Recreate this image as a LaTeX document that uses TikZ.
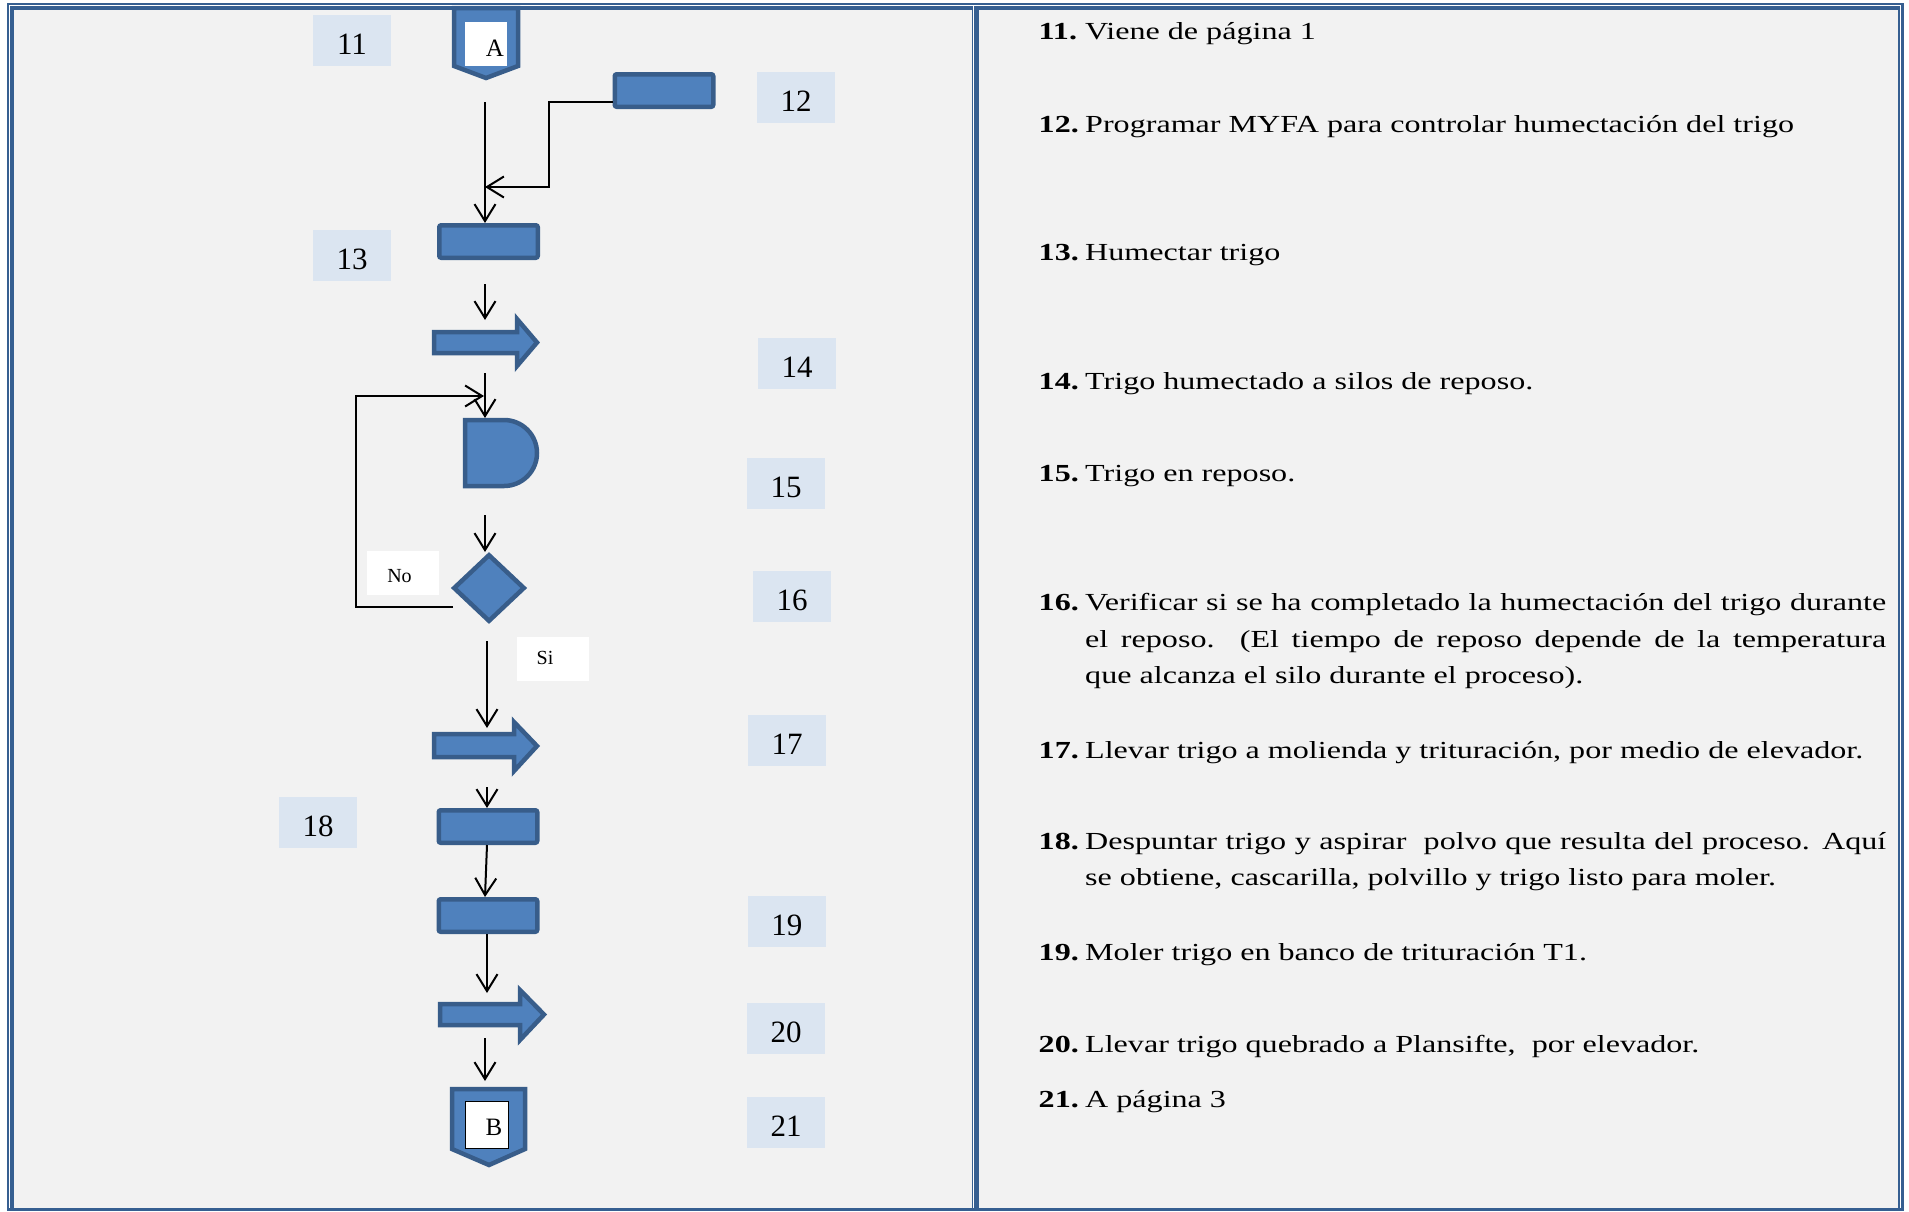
\documentclass[tikz,border=0pt]{standalone}
\usepackage{fontspec}
\setmainfont{Liberation Serif}
\newfontfamily\widefont{Liberation Serif}[FakeStretch=1.31]
\usetikzlibrary{arrows.meta,shapes.geometric,calc}
\definecolor{tblue}{RGB}{54,95,145}
\definecolor{cellbg}{RGB}{242,242,242}
\definecolor{lblbg}{RGB}{219,229,241}
\definecolor{shfill}{RGB}{79,129,189}
\definecolor{shline}{RGB}{56,93,138}
\begin{document}
\begin{tikzpicture}[x=1pt,y=1pt,
  shp/.style={fill=shfill,draw=shline,line width=4.5pt},
  procbox/.style={shp,rectangle,rounded corners=2pt,minimum width=98.5pt,minimum height=32.5pt,inner sep=0pt},
  lbl/.style={fill=lblbg,inner sep=0pt,minimum width=78pt,minimum height=51pt},
  lblnum/.style={inner sep=0pt,font=\fontsize{31}{31}\selectfont},
  txt/.style={inner sep=0pt,font=\widefont\fontsize{24.5}{36.5}\selectfont,anchor=base west},
  small/.style={inner sep=0pt,font=\fontsize{20}{20}\selectfont},
  conn/.style={line width=2pt,-{Straight Barb[length=17pt,width=21pt]}},
  whitebox/.style={fill=white,inner sep=0pt,minimum width=71.5pt,minimum height=44pt},
  ]
\useasboundingbox (0,0) rectangle (1909,-1211);
\fill[white] (0,0) rectangle (1909,-1211);
% cells
\fill[cellbg] (14,-10) rectangle (971.7,-1208);
\fill[cellbg] (979,-10) rectangle (1898,-1208);

% label boxes
\foreach \n/\x/\y in {11/352/40.5, 12/796/97.5, 13/352/255.5, 14/797/363.5, 15/786/483.5, 16/792/596.5, 17/787/740.5, 18/318/822.5, 19/786.75/921.5, 20/786/1028.5, 21/786/1122.5}{
  \node[lbl] (l\n) at (\x,-\y) {};
  \node[lblnum] (ln\n) at ($(l\n)+(0,-3.5)$) {\n};
}

% off-page connector A
\path[shp] (454,-8) -- (454,-66) -- (486,-78) -- (518,-66) -- (518,-8) -- cycle;
\node[fill=white,minimum width=42pt,minimum height=44pt,inner sep=0pt] (offA) at (486,-44) {};
\node[inner sep=0pt,font=\fontsize{25}{25}\selectfont] (labA) at (495,-48) {A};

% process boxes
\node[procbox] (r12) at (664,-90.5) {};
\node[procbox] (r13) at (488.5,-241.5) {};
\node[procbox] (r18) at (488,-826.5) {};
\node[procbox] (r19) at (488,-915.5) {};

% block arrows (transport)
\path[shp] (434,-332) -- (517,-332) -- (517,-319) -- (537,-342.5) -- (517,-366) -- (517,-353) -- (434,-353) -- cycle;
\path[shp] (434,-734) -- (514,-734) -- (514,-722) -- (537,-746) -- (514,-771) -- (514,-757) -- (434,-757) -- cycle;
\path[shp] (440,-1004) -- (520,-1004) -- (520,-990) -- (544,-1014.5) -- (520,-1040) -- (520,-1025) -- (440,-1025) -- cycle;

% delay (D shape)
\path[shp] (465,-420) -- (504,-420) arc[start angle=90,end angle=-90,radius=33] -- (465,-486) -- cycle;

% decision
\node[shp,diamond,minimum width=71.5pt,minimum height=67.5pt,inner sep=0pt] (d16) at (489,-588) {};

% off-page connector B
\path[shp] (452,-1089) -- (452,-1149) -- (489,-1165) -- (525,-1149) -- (525,-1089) -- cycle;
\node[fill=white,draw=black,line width=1pt,minimum width=43pt,minimum height=47pt,inner sep=0pt] (offB) at (486.5,-1124.5) {};
\node[inner sep=0pt,font=\fontsize{25}{25}\selectfont] (labB) at (494,-1127) {B};

% No / Si labels
\node[whitebox] (nobox) at (402.75,-573) {};
\node[small] (notxt) at (399.5,-576.5) {No};
\node[whitebox] (sibox) at (553,-659) {};
\node[small] (sitxt) at (545,-658) {Si};

% connector coordinates
\coordinate (a1) at (485,-102);
\coordinate (j12) at (485,-187);
\coordinate (c13s) at (485,-284);
\coordinate (ba14n) at (485,-320);
\coordinate (c14s) at (485,-373);
\coordinate (d15n) at (485,-418);
\coordinate (c15s) at (485,-515);
\coordinate (loopstart) at (453,-607);
\coordinate (loopend) at (484,-396);
\coordinate (c16s) at (487,-641);
\coordinate (ba17n) at (487,-728);
\coordinate (c17s) at (487,-787);
\coordinate (ba20n) at (487,-993);
\coordinate (c20s) at (485,-1038);
\coordinate (offBn) at (485,-1081);

% connectors
\draw[conn] (a1) -- (a1 |- r13.north);
\draw[conn] ($(r12.west)+(0,-11.2)$) -- ++(-64,0) |- (j12);
\draw[conn] (c13s) -- (ba14n);
\draw[conn] (c14s) -- (d15n);
\draw[conn] (loopstart) -- ++(-97.5,0) |- (loopend);
\draw[conn] (c15s) -- (c15s |- d16.north);
\draw[conn] (c16s) -- (ba17n);
\draw[conn] (c17s) -- (c17s |- r18.north);
\draw[conn] ($(r18.south)+(-1,0)$) -- ($(r19.north)+(-3,0)$);
\draw[conn] ($(r19.south)+(-1,0)$) -- (ba20n);
\draw[conn] (c20s) -- (offBn);

% right column text
\node[txt] (n11) at (1038.5,-39.5) {\textbf{11.}};
\node[txt] (t11) at (1085,-39.5) {Viene de página 1};
\node[txt] (n12) at (1038.5,-132) {\textbf{12.}};
\node[txt] (t12) at (1085,-132) {Programar MYFA para controlar humectación del trigo};
\node[txt] (n13) at (1038.5,-260) {\textbf{13.}};
\node[txt] (t13) at (1085,-260) {Humectar trigo};
\node[txt] (n14) at (1038.5,-389) {\textbf{14.}};
\node[txt] (t14) at (1085,-389) {Trigo humectado a silos de reposo.};
\node[txt] (n15) at (1038.5,-481) {\textbf{15.}};
\node[txt] (t15) at (1085,-481) {Trigo en reposo.};
\node[txt] (n16) at (1038.5,-610.7) {\textbf{16.}};
\node[txt] (t16a) at (1085,-610.7) {\makebox[801pt][s]{Verificar si se ha completado la humectación del trigo durante}};
\node[txt] (t16b) at (1085,-647.3) {\makebox[801pt][s]{el reposo.\ \ (El tiempo de reposo depende de la temperatura}};
\node[txt] (t16c) at (1085,-683.3) {que alcanza el silo durante el proceso).};
\node[txt] (n17) at (1038.5,-758) {\textbf{17.}};
\node[txt] (t17) at (1085,-758) {Llevar trigo a molienda y trituración, por medio de elevador.};
\node[txt] (n18) at (1038.5,-849) {\textbf{18.}};
\node[txt] (t18a) at (1085,-849) {\makebox[801pt][s]{Despuntar trigo y aspirar\ \ polvo que resulta del proceso. Aquí}};
\node[txt] (t18b) at (1085,-885.6) {se obtiene, cascarilla, polvillo y trigo listo para moler.};
\node[txt] (n19) at (1038.5,-960) {\textbf{19.}};
\node[txt] (t19) at (1085,-960) {Moler trigo en banco de trituración T1.};
\node[txt] (n20) at (1038.5,-1052) {\textbf{20.}};
\node[txt] (t20) at (1085,-1052) {Llevar trigo quebrado a Plansifte,\ \ por elevador.};
\node[txt] (n21) at (1038.5,-1107) {\textbf{21.}};
\node[txt] (t21) at (1085,-1107) {A página 3};

% table borders
\fill[tblue] (7,-3) rectangle (1904,-5);
\fill[tblue] (7,-3) rectangle (9,-1211);
\fill[tblue] (1901,-3) rectangle (1904,-1211);
\fill[tblue] (7,-1208) rectangle (1904,-1211);
\fill[tblue] (10,-6) rectangle (14,-1208);
\fill[tblue] (10,-6) rectangle (972.7,-10);
\fill[tblue] (971.7,-6) rectangle (972.7,-1208);
\fill[tblue] (974.3,-6) rectangle (979,-1208);
\fill[tblue] (974.3,-6) rectangle (1900,-10);
\fill[tblue] (1898,-6) rectangle (1900,-1208);
\end{tikzpicture}
\end{document}
